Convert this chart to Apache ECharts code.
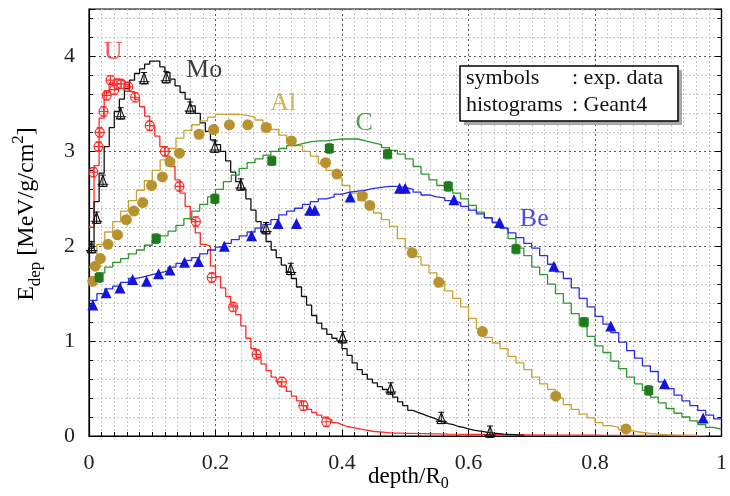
<!DOCTYPE html>
<html>
<head>
<meta charset="utf-8">
<script src="https://cdn.jsdelivr.net/npm/echarts@6/dist/echarts.min.js"></script>
<style>
html,body{margin:0;padding:0;background:#fff;}
#chart{width:730px;height:496px;}
</style>
</head>
<body>
<div id="chart"></div>
<script>
// ---------- axis ticks ----------
const xTickLabels = [0, 0.2, 0.4, 0.6, 0.8, 1];
const yTickLabels = [0, 1, 2, 3, 4];

// ---------- Geant4 histograms (bin start, bin width, bin contents) ----------
const uStart = 0, uBin = 0.008;
const uHist = [2.20, 2.85, 3.35, 3.62, 3.72, 3.76, 3.74, 3.70, 3.63, 3.55, 3.47, 3.37, 3.27, 3.16, 3.05, 2.95, 2.84, 2.70, 2.56, 2.42,
  2.28, 2.14, 2.02, 2.00, 1.79, 1.68, 1.56, 1.47, 1.38, 1.28, 1.16, 1.03, 0.92, 0.83, 0.76, 0.69, 0.62, 0.57, 0.52, 0.47,
  0.42, 0.37, 0.32, 0.28, 0.25, 0.22, 0.19, 0.17, 0.14, 0.12, 0.10, 0.09, 0.08, 0.07, 0.06, 0.05, 0.045, 0.04, 0.035, 0.03, 0.03];
const uTailStart = 0.488, uTailBin = 0.04;
const uTail = [0.025, 0.02, 0.018, 0.015, 0.012, 0.01, 0.01, 0.008, 0.007, 0.006, 0.005, 0.005];

const moStart = 0, moBin = 0.008;
const moHist = [1.98, 2.47, 2.77, 3.05, 3.25, 3.42, 3.55, 3.66, 3.75, 3.82, 3.87, 3.92, 3.95, 3.95, 3.89, 3.83, 3.76, 3.69, 3.62, 3.55,
  3.48, 3.40, 3.30, 3.21, 3.12, 3.07, 3.00, 2.90, 2.78, 2.68, 2.60, 2.50, 2.38, 2.26, 2.15, 2.05, 1.96, 1.88, 1.80, 1.73,
  1.66, 1.57, 1.47, 1.38, 1.27, 1.19, 1.13, 1.07, 1.03, 1.00, 0.92, 0.85, 0.77, 0.70, 0.65, 0.60, 0.56, 0.52, 0.49, 0.46,
  0.41, 0.36, 0.32, 0.27, 0.25, 0.23, 0.21, 0.19, 0.17, 0.15, 0.13, 0.12, 0.10, 0.09, 0.075, 0.063, 0.055, 0.045, 0.035, 0.03,
  0.025, 0.02, 0.018, 0.015, 0.012, 0.01];

const alStart = 0, alBin = 0.0125;
const alHist = [1.78, 2.02, 2.15, 2.26, 2.37, 2.48, 2.59, 2.69, 2.80, 2.91, 3.03, 3.14, 3.22, 3.28, 3.32, 3.36, 3.39, 3.39, 3.39, 3.38,
  3.36, 3.33, 3.29, 3.23, 3.17, 3.11, 3.06, 3.00, 2.95, 2.87, 2.80, 2.72, 2.64, 2.56, 2.48, 2.42, 2.35, 2.28, 2.21, 2.08,
  1.98, 1.89, 1.80, 1.72, 1.63, 1.53, 1.45, 1.36, 1.24, 1.13, 1.04, 0.98, 0.92, 0.84, 0.77, 0.70, 0.62, 0.55, 0.49, 0.40,
  0.33, 0.28, 0.23, 0.19, 0.14, 0.11, 0.09, 0.065, 0.05, 0.037, 0.028, 0.02, 0.015, 0.012, 0.01, 0.008, 0.006, 0.005];

const cStart = 0, cBin = 0.0125;
const cHist = [1.63, 1.72, 1.78, 1.83, 1.87, 1.92, 1.96, 2.01, 2.06, 2.11, 2.16, 2.22, 2.29, 2.37, 2.44, 2.52, 2.60, 2.68, 2.75, 2.82,
  2.88, 2.92, 2.96, 3.00, 3.03, 3.06, 3.08, 3.10, 3.11, 3.11, 3.12, 3.13, 3.13, 3.13, 3.11, 3.09, 3.07, 3.04, 3.01, 2.97,
  2.92, 2.84, 2.76, 2.70, 2.64, 2.60, 2.56, 2.50, 2.43, 2.36, 2.30, 2.25, 2.19, 2.08, 1.98, 1.90, 1.78, 1.70, 1.60, 1.50,
  1.40, 1.29, 1.17, 1.05, 0.95, 0.88, 0.79, 0.71, 0.62, 0.55, 0.48, 0.41, 0.35, 0.29, 0.24, 0.20, 0.16, 0.12, 0.09, 0.07];

const beStart = 0, beBin = 0.0125;
const beHist = [1.43, 1.50, 1.55, 1.58, 1.62, 1.66, 1.68, 1.70, 1.72, 1.74, 1.78, 1.82, 1.85, 1.88, 1.92, 1.96, 1.99, 2.03, 2.07, 2.11,
  2.15, 2.19, 2.23, 2.28, 2.33, 2.37, 2.40, 2.44, 2.47, 2.50, 2.52, 2.55, 2.57, 2.58, 2.59, 2.61, 2.62, 2.63, 2.63, 2.62,
  2.60, 2.57, 2.54, 2.52, 2.51, 2.48, 2.46, 2.42, 2.38, 2.34, 2.30, 2.25, 2.19, 2.14, 2.09, 2.03, 1.98, 1.90, 1.81, 1.73,
  1.66, 1.56, 1.45, 1.36, 1.26, 1.18, 1.09, 0.99, 0.90, 0.82, 0.74, 0.68, 0.57, 0.50, 0.43, 0.37, 0.32, 0.27, 0.22, 0.18];

// ---------- experimental data points [depth/R0, Edep] ----------
const uPts = [[0.007, 2.78], [0.015, 3.05], [0.017, 3.20], [0.023, 3.42], [0.028, 3.59], [0.034, 3.75], [0.040, 3.65], [0.044, 3.71],
  [0.051, 3.71], [0.062, 3.68], [0.073, 3.57], [0.096, 3.27], [0.120, 3.00], [0.143, 2.63], [0.169, 2.26], [0.194, 1.67],
  [0.228, 1.36], [0.265, 0.86], [0.305, 0.57], [0.339, 0.32], [0.375, 0.15]];
const moPts = [[0.004, 1.99], [0.012, 2.30], [0.022, 2.69], [0.050, 3.40], [0.087, 3.77], [0.122, 3.78], [0.160, 3.46], [0.199, 3.05],
  [0.240, 2.65], [0.280, 2.19], [0.319, 1.76], [0.401, 1.04], [0.477, 0.50], [0.557, 0.19], [0.634, 0.045]];
const alPts = [[0.006, 1.63], [0.010, 1.79], [0.018, 1.87], [0.030, 2.02], [0.045, 2.12], [0.059, 2.28], [0.071, 2.37], [0.085, 2.46],
  [0.099, 2.64], [0.116, 2.73], [0.128, 2.89], [0.143, 2.98], [0.174, 3.18], [0.197, 3.23], [0.222, 3.28], [0.251, 3.28],
  [0.280, 3.25], [0.320, 3.11], [0.374, 2.88], [0.392, 2.76], [0.432, 2.53], [0.444, 2.43], [0.511, 1.93], [0.553, 1.62],
  [0.622, 1.10], [0.738, 0.42], [0.849, 0.074]];
const cPts = [[0.016, 1.67], [0.106, 2.08], [0.199, 2.50], [0.289, 2.90], [0.380, 3.03], [0.472, 2.97], [0.568, 2.63], [0.675, 1.97],
  [0.783, 1.20], [0.885, 0.48]];
const bePts = [[0.006, 1.38], [0.027, 1.51], [0.049, 1.56], [0.069, 1.65], [0.091, 1.63], [0.110, 1.71], [0.128, 1.75], [0.151, 1.83],
  [0.173, 1.84], [0.214, 2.00], [0.257, 2.11], [0.299, 2.24], [0.328, 2.24], [0.349, 2.38], [0.357, 2.38], [0.413, 2.52],
  [0.491, 2.61], [0.500, 2.61], [0.577, 2.49], [0.649, 2.25], [0.735, 1.79], [0.825, 1.16], [0.910, 0.55], [0.971, 0.19]];
const uErr = 0.05, moErr = 0.06, cErr = 0.05;

// ---------- curve name labels [name, x, y] ----------
const curveLabels = [['U', 0.038, 4.04, '#ff2a2a'], ['Mo', 0.182, 3.86, '#111111'], ['Al', 0.307, 3.51, '#c8a032'],
  ['C', 0.435, 3.30, '#1f8a1f'], ['Be', 0.704, 2.29, '#2020e0']];

const SERIF = '"Liberation Serif", "DejaVu Serif", serif';

function histData(segments) {
  const out = [];
  segments.forEach(([start, w, vals], si) => {
    vals.forEach((v, i) => out.push([+(start + i * w).toFixed(5), v]));
    if (si === segments.length - 1) out.push([+(start + vals.length * w).toFixed(5), vals[vals.length - 1]]);
  });
  return out;
}
function histSeries(data, color) {
  return { type: 'line', step: 'end', data: data, showSymbol: false, symbol: 'none', z: 3,
    lineStyle: { color: color, width: 1.3 }, animation: false, silent: true, clip: true };
}
function errSeries(pts, err, color) {
  return {
    type: 'custom', z: 4, animation: false, silent: true,
    data: pts.map(p => [p[0], p[1], err]),
    renderItem: function (params, api) {
      const x = api.value(0), y = api.value(1), e = api.value(2);
      const t = api.coord([x, y + e]), b = api.coord([x, y - e]);
      const st = { stroke: color, lineWidth: 1 };
      return { type: 'group', children: [
        { type: 'line', shape: { x1: t[0], y1: t[1], x2: b[0], y2: b[1] }, style: st },
        { type: 'line', shape: { x1: t[0] - 3, y1: t[1], x2: t[0] + 3, y2: t[1] }, style: st },
        { type: 'line', shape: { x1: b[0] - 3, y1: b[1], x2: b[0] + 3, y2: b[1] }, style: st }
      ]};
    }
  };
}
const circleBar = 'path://M0,-10 A10,10 0 1,1 0,10 A10,10 0 1,1 0,-10 Z M-10,0 L10,0';
const triBar = 'path://M0,-10 L9,6 L-9,6 Z M-12,3 L12,3';

const chart = echarts.init(document.getElementById('chart'), null, { renderer: 'canvas' });

const majorSplit = { show: true, lineStyle: { color: '#555', type: [2, 3], width: 1 } };
const minorSplit = { show: true, lineStyle: { color: '#c8c8c8', type: [2, 2], width: 1 } };

const option = {
  animation: false,
  backgroundColor: '#ffffff',
  grid: { left: 89, right: 3, top: 9, bottom: 60, show: true, borderColor: '#000', borderWidth: 1.2, backgroundColor: 'transparent' },
  xAxis: [{
    type: 'value', min: 0, max: 1, interval: 0.2,
    axisLine: { show: true, lineStyle: { color: '#000', width: 1.2 } },
    axisTick: { show: true, inside: true, length: 6, lineStyle: { color: '#000' } },
    minorTick: { show: true, splitNumber: 10, length: 4, lineStyle: { color: '#000' } },
    splitLine: majorSplit, minorSplitLine: minorSplit,
    axisLabel: { margin: 16, fontFamily: SERIF, fontSize: 22, color: '#222',
      formatter: v => (xTickLabels.indexOf(+v.toFixed(2)) >= 0 ? String(+v.toFixed(2)) : '') }
  }],
  yAxis: [{
    type: 'value', min: 0, max: 4.5, interval: 1,
    axisLine: { show: true, lineStyle: { color: '#000', width: 1.2 } },
    axisTick: { show: true, inside: true, length: 6, lineStyle: { color: '#000' } },
    minorTick: { show: true, splitNumber: 5, length: 4, lineStyle: { color: '#000' } },
    splitLine: majorSplit, minorSplitLine: minorSplit,
    axisLabel: { margin: 14, fontFamily: SERIF, fontSize: 22, color: '#222',
      formatter: v => (yTickLabels.indexOf(v) >= 0 ? String(v) : '') }
  }, {
    type: 'value', min: 0, max: 4.5, interval: 1, position: 'right',
    axisLine: { show: true, lineStyle: { color: '#000', width: 1.2 } },
    axisTick: { show: true, inside: true, length: 6, lineStyle: { color: '#000' } },
    minorTick: { show: true, splitNumber: 5, length: 4, lineStyle: { color: '#000' } },
    splitLine: { show: false }, axisLabel: { show: false }
  }],
  series: [
    histSeries(histData([[uStart, uBin, uHist], [uTailStart, uTailBin, uTail]]), '#ff2a2a'),
    histSeries(histData([[moStart, moBin, moHist]]), '#111111'),
    histSeries(histData([[alStart, alBin, alHist]]), '#c9a232'),
    histSeries(histData([[cStart, cBin, cHist]]), '#2e962e'),
    histSeries(histData([[beStart, beBin, beHist]]), '#2b2beb'),
    errSeries(uPts, uErr, '#ff2a2a'),
    errSeries(moPts, moErr, '#111111'),
    errSeries(cPts, cErr, '#1f7a1f'),
    { type: 'scatter', data: alPts, symbol: 'circle', symbolSize: 11, z: 5, animation: false,
      itemStyle: { color: '#b8922e', opacity: 1 } },
    { type: 'scatter', data: cPts, symbol: 'rect', symbolSize: 9, z: 5, animation: false,
      itemStyle: { color: '#1f7a1f', opacity: 1 } },
    { type: 'scatter', data: bePts, symbol: 'triangle', symbolSize: 11, z: 5, animation: false,
      itemStyle: { color: '#1414e0', opacity: 1 } },
    { type: 'scatter', data: uPts, symbol: circleBar, symbolSize: 9, z: 6, animation: false,
      itemStyle: { color: 'rgba(0,0,0,0)', borderColor: '#ff2a2a', borderWidth: 1.2, opacity: 1 } },
    { type: 'scatter', data: moPts, symbol: triBar, symbolSize: 11, z: 6, animation: false,
      itemStyle: { color: 'rgba(0,0,0,0)', borderColor: '#111', borderWidth: 1.1, opacity: 1 } },
    { type: 'scatter', symbolSize: 0, z: 7, animation: false, silent: true,
      data: curveLabels.map(l => ({ name: l[0], value: [l[1], l[2]],
        label: { show: true, position: 'inside', formatter: l[0], color: l[3], fontFamily: SERIF, fontSize: 26 } })) }
  ],
  graphic: [
    { type: 'rect', shape: { x: 464, y: 70, width: 218, height: 55 }, style: { fill: '#a8a8a8' }, z: 20 },
    { type: 'rect', shape: { x: 460, y: 66, width: 218, height: 55 }, style: { fill: '#fff', stroke: '#000', lineWidth: 1.5 }, z: 21 },
    { type: 'text', x: 466, y: 78, z: 22, style: { text: 'symbols', font: '22px ' + SERIF, fill: '#111', textVerticalAlign: 'middle' } },
    { type: 'text', x: 572, y: 78, z: 22, style: { text: ': exp. data', font: '22px ' + SERIF, fill: '#111', textVerticalAlign: 'middle' } },
    { type: 'text', x: 466, y: 105, z: 22, style: { text: 'histograms', font: '22px ' + SERIF, fill: '#111', textVerticalAlign: 'middle' } },
    { type: 'text', x: 572, y: 105, z: 22, style: { text: ': Geant4', font: '22px ' + SERIF, fill: '#111', textVerticalAlign: 'middle' } },
    { type: 'text', x: 368, y: 477, z: 22, style: {
        text: '{n|depth/R}{s|0}', textVerticalAlign: 'middle',
        rich: { n: { fontFamily: SERIF, fontSize: 23, color: '#222', lineHeight: 30 },
                s: { fontFamily: SERIF, fontSize: 16, color: '#222', lineHeight: 30, verticalAlign: 'bottom', padding: [8, 0, 0, 0] } } } },
    { type: 'text', x: 27, y: 214, rotation: Math.PI / 2, z: 22, style: {
        text: '{n|E}{s|dep}{n| [MeV/g/cm}{p|2}{n|]}', textAlign: 'center', textVerticalAlign: 'middle',
        rich: { n: { fontFamily: SERIF, fontSize: 24, color: '#222', lineHeight: 34 },
                s: { fontFamily: SERIF, fontSize: 17, color: '#222', lineHeight: 34, verticalAlign: 'bottom', padding: [10, 0, 0, 0] },
                p: { fontFamily: SERIF, fontSize: 17, color: '#222', lineHeight: 34, verticalAlign: 'top', padding: [0, 0, 12, 0] } } } }
  ]
};
chart.setOption(option);
</script>
</body>
</html>
